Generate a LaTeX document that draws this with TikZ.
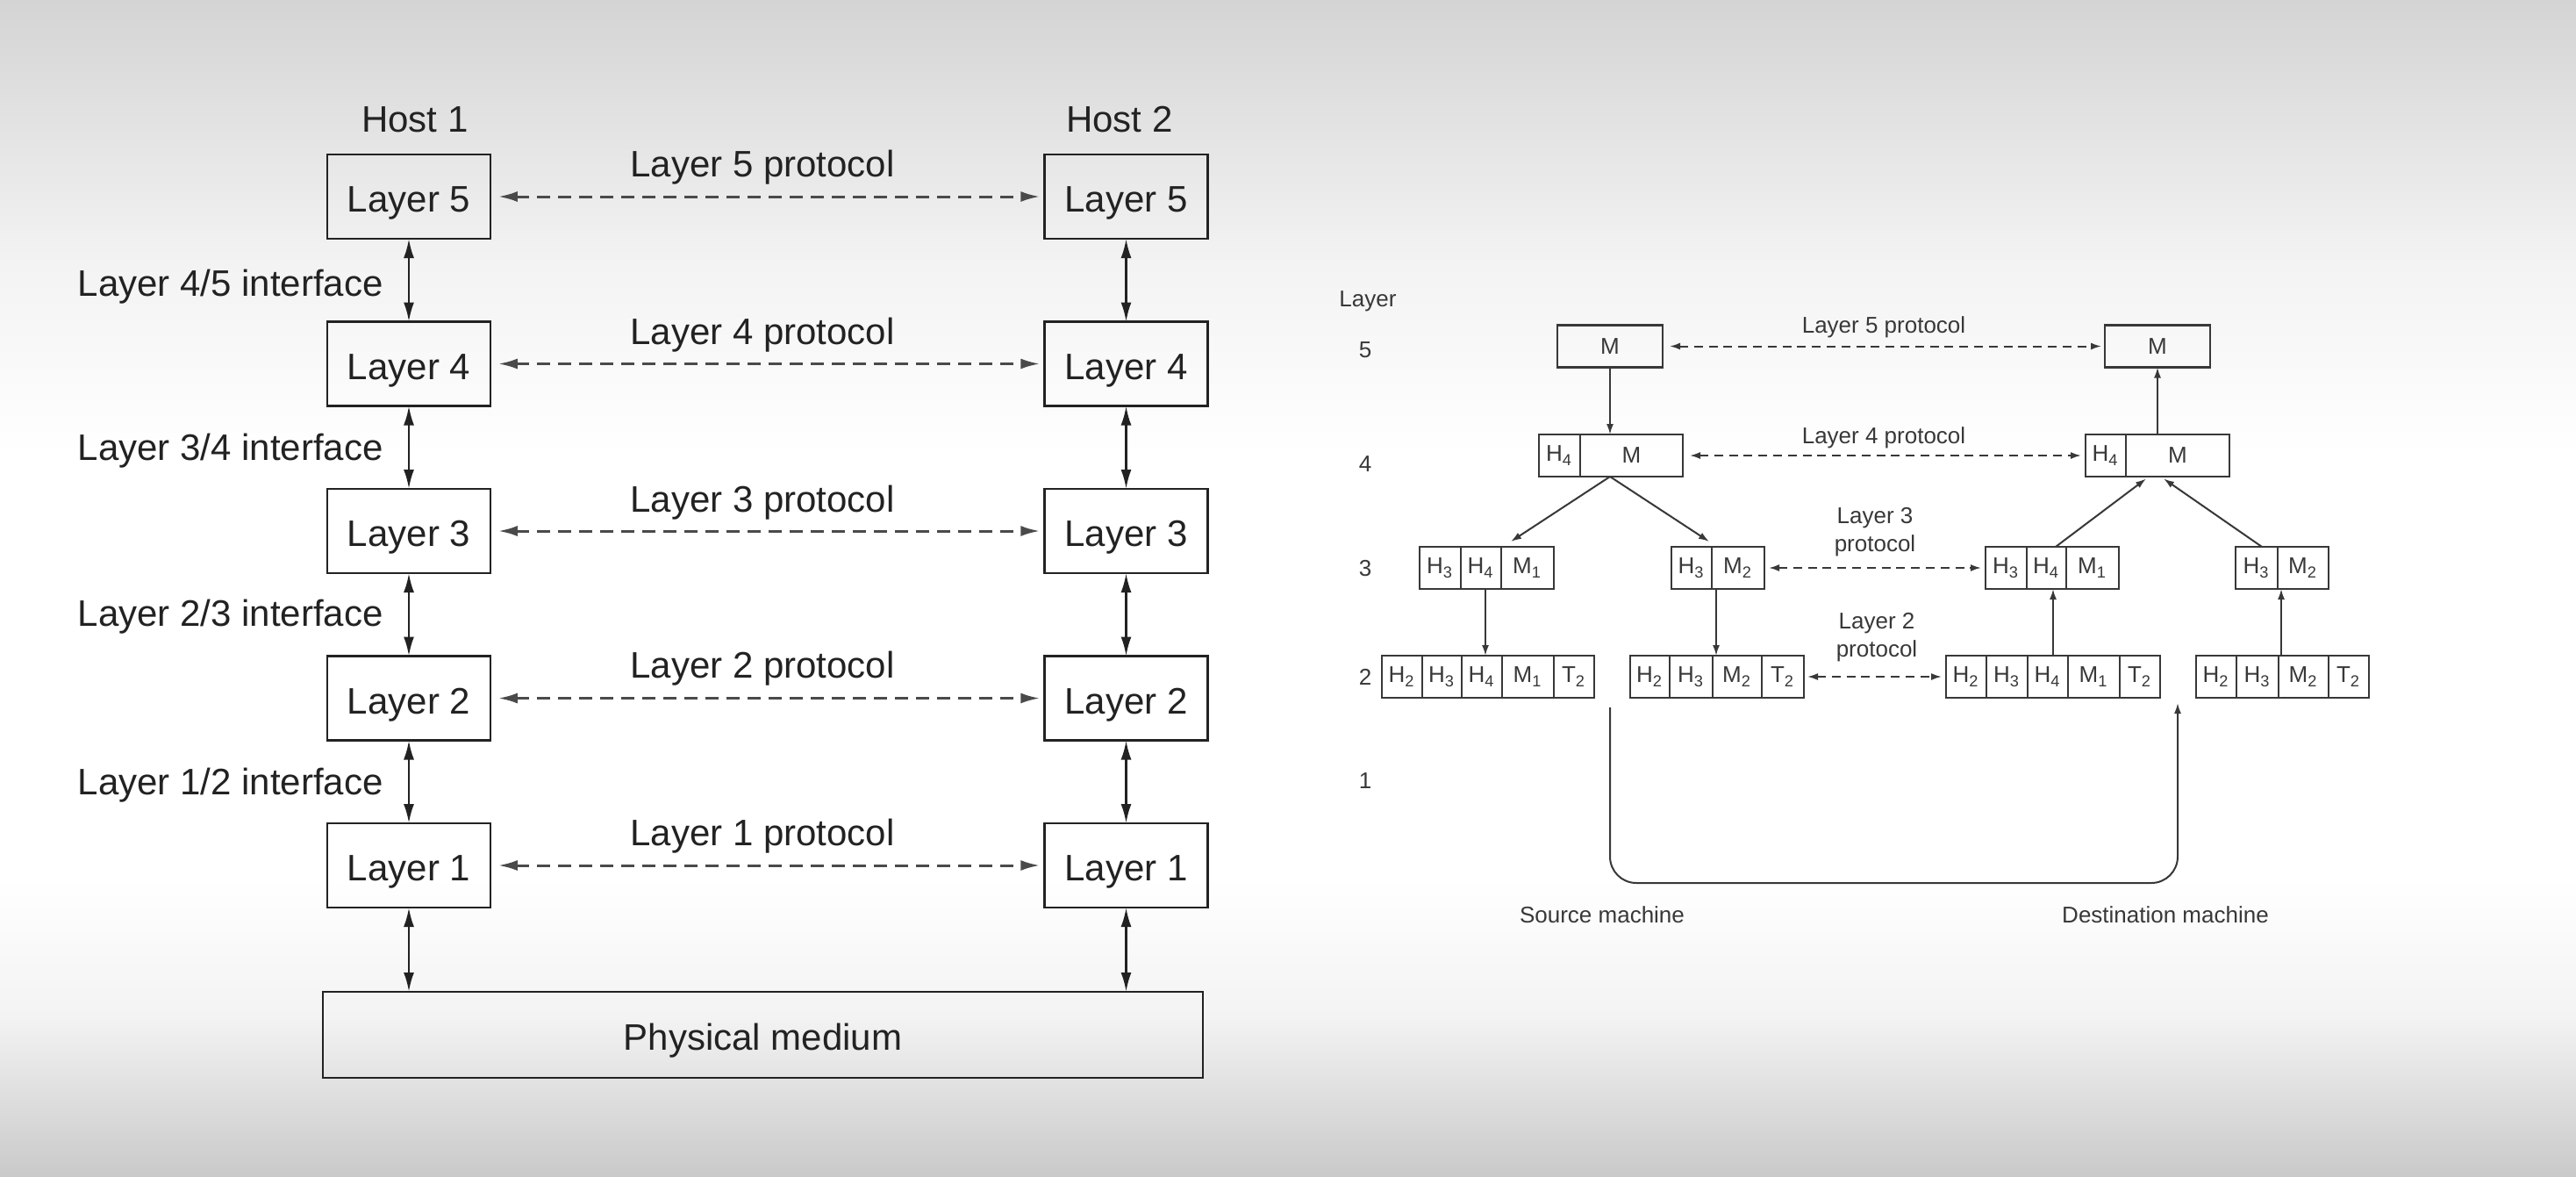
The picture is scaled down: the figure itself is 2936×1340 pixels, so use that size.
\documentclass[tikz,border=0pt]{standalone}
\usepackage{fontspec}
\setmainfont{Liberation Sans}
\usetikzlibrary{arrows.meta}
\definecolor{bgA}{HTML}{D4D4D4}
\definecolor{bgB}{HTML}{F3F3F3}
\definecolor{ink}{HTML}{222222}
\definecolor{inkR}{HTML}{383838}
\definecolor{dashc}{HTML}{4A4A4A}
\tikzset{
 lbox/.style={draw=ink, line width=0.7pt, minimum width=46.5pt, minimum height=24pt, inner sep=0pt, outer sep=0pt, text=ink, text height=8.8pt, text depth=0pt, font=\fontsize{10.5}{12}\selectfont},
 physbox/.style={draw=ink, line width=0.7pt, minimum width=250.75pt, minimum height=24.5pt, inner sep=0pt, outer sep=0pt, text=ink, text height=8.8pt, text depth=0pt, font=\fontsize{10.5}{12}\selectfont},
 llbl/.style={inner sep=0pt, text=ink, font=\fontsize{10.5}{12}\selectfont},
 varrow/.style={draw=ink, line width=0.65pt, {Latex[length=5.5pt,width=3pt]}-{Latex[length=5.5pt,width=3pt]}},
 darrow/.style={draw=dashc, line width=0.75pt, dash pattern=on 3.6pt off 2.4pt, {Latex[length=5.5pt,width=3pt]}-{Latex[length=5.5pt,width=3pt]}, shorten <=2.2pt, shorten >=1.3pt},
 cell/.style={draw=inkR, line width=0.55pt, minimum height=12pt, inner sep=0pt, outer sep=0pt, anchor=west, text=inkR, font=\fontsize{6.5}{7.5}\selectfont},
 cw/.style={minimum width=#1*0.25pt},
 slbl/.style={inner sep=0pt, text=inkR, font=\fontsize{6.5}{8}\selectfont, align=center},
 sarrow/.style={draw=inkR, line width=0.5pt, -{Latex[length=3pt,width=2pt]}},
 sdash/.style={draw=inkR, line width=0.5pt, dash pattern=on 2.5pt off 1.7pt, {Latex[length=3pt,width=2pt]}-{Latex[length=3pt,width=2pt]}},
}
\begin{document}
\begin{tikzpicture}[x=0.25pt,y=-0.25pt]
\useasboundingbox (0,0) rectangle (2936,1340);
% background
\fill[white] (0,0) rectangle (2936,1340);
\shade[top color=bgA, bottom color=bgB] (0,0) rectangle (2936,300);
\shade[top color=bgB, bottom color=white] (0,299) rectangle (2936,520);
\shade[top color=white, bottom color=bgB] (0,1000) rectangle (2936,1160);
\shade[top color=bgB, bottom color=bgA!95!black] (0,1159) rectangle (2936,1340);

% ===== left diagram =====
\node[llbl] (host1) at (473,136) {Host 1};
\node[llbl] (host2) at (1276,136) {Host 2};

\node[lbox] (a5) at (466,224) {Layer 5};
\node[lbox] (a4) at (466,414.5) {Layer 4};
\node[lbox] (a3) at (466,605) {Layer 3};
\node[lbox] (a2) at (466,795.5) {Layer 2};
\node[lbox] (a1) at (466,986) {Layer 1};
\node[lbox] (b5) at (1283.5,224) {Layer 5};
\node[lbox] (b4) at (1283.5,414.5) {Layer 4};
\node[lbox] (b3) at (1283.5,605) {Layer 3};
\node[lbox] (b2) at (1283.5,795.5) {Layer 2};
\node[lbox] (b1) at (1283.5,986) {Layer 1};
\node[physbox] (phys) at (869.5,1179) {Physical medium};

\draw[varrow] (a5.south) -- (a4.north);
\draw[varrow] (a4.south) -- (a3.north);
\draw[varrow] (a3.south) -- (a2.north);
\draw[varrow] (a2.south) -- (a1.north);
\draw[varrow] (a1.south) -- (a1.south |- phys.north);
\draw[varrow] (b5.south) -- (b4.north);
\draw[varrow] (b4.south) -- (b3.north);
\draw[varrow] (b3.south) -- (b2.north);
\draw[varrow] (b2.south) -- (b1.north);
\draw[varrow] (b1.south) -- (b1.south |- phys.north);

\draw[darrow] (a5.east) -- (b5.west);
\draw[darrow] (a4.east) -- (b4.west);
\draw[darrow] (a3.east) -- (b3.west);
\draw[darrow] (a2.east) -- (b2.west);
\draw[darrow] (a1.east) -- (b1.west);

\node[llbl] (p5) at (869,191) {Layer 5 protocol};
\node[llbl] (p4) at (869,382) {Layer 4 protocol};
\node[llbl] (p3) at (869,573) {Layer 3 protocol};
\node[llbl] (p2) at (869,762) {Layer 2 protocol};
\node[llbl] (p1) at (869,953) {Layer 1 protocol};

\node[llbl, anchor=west] (i45) at (88,327) {Layer 4/5 interface};
\node[llbl, anchor=west] (i34) at (88,514) {Layer 3/4 interface};
\node[llbl, anchor=west] (i23) at (88,703) {Layer 2/3 interface};
\node[llbl, anchor=west] (i12) at (88,895) {Layer 1/2 interface};

% ===== right diagram =====
\node[slbl] (lay) at (1559,343) {Layer};
\node[slbl] (n5) at (1556,399) {5};
\node[slbl] (n4) at (1556,529) {4};
\node[slbl] (n3) at (1556,648) {3};
\node[slbl] (n2) at (1556,771) {2};
\node[slbl] (n1) at (1556,890) {1};

% row 5
\node[cell, cw=120] (r5l) at (1775,394.5) {M};
\node[cell, cw=120] (r5r) at (2399,394.5) {M};
% row 4
\node[cell, cw=47] (r4lh) at (1754,519) {H\textsubscript{4}};
\node[cell, cw=117] (r4lm) at (1801,519) {M};
\node[cell, cw=46] (r4rh) at (2377,519) {H\textsubscript{4}};
\node[cell, cw=118] (r4rm) at (2423,519) {M};
% row 3
\node[cell, cw=47] (r3ah3) at (1618,647) {H\textsubscript{3}};
\node[cell, cw=46] (r3ah4) at (1665,647) {H\textsubscript{4}};
\node[cell, cw=60] (r3am1) at (1711,647) {M\textsubscript{1}};
\node[cell, cw=46] (r3bh3) at (1905,647) {H\textsubscript{3}};
\node[cell, cw=60] (r3bm2) at (1951,647) {M\textsubscript{2}};
\node[cell, cw=47] (r3ch3) at (2263,647) {H\textsubscript{3}};
\node[cell, cw=45] (r3ch4) at (2310,647) {H\textsubscript{4}};
\node[cell, cw=60] (r3cm1) at (2355,647) {M\textsubscript{1}};
\node[cell, cw=48] (r3dh3) at (2548,647) {H\textsubscript{3}};
\node[cell, cw=58] (r3dm2) at (2596,647) {M\textsubscript{2}};
% row 2
\node[cell, cw=46] (r2ah2) at (1575,771) {H\textsubscript{2}};
\node[cell, cw=45] (r2ah3) at (1621,771) {H\textsubscript{3}};
\node[cell, cw=46] (r2ah4) at (1666,771) {H\textsubscript{4}};
\node[cell, cw=59] (r2am1) at (1712,771) {M\textsubscript{1}};
\node[cell, cw=46] (r2at2) at (1771,771) {T\textsubscript{2}};
\node[cell, cw=45] (r2bh2) at (1858,771) {H\textsubscript{2}};
\node[cell, cw=49] (r2bh3) at (1903,771) {H\textsubscript{3}};
\node[cell, cw=56] (r2bm2) at (1952,771) {M\textsubscript{2}};
\node[cell, cw=48] (r2bt2) at (2008,771) {T\textsubscript{2}};
\node[cell, cw=46] (r2ch2) at (2218,771) {H\textsubscript{2}};
\node[cell, cw=47] (r2ch3) at (2264,771) {H\textsubscript{3}};
\node[cell, cw=46] (r2ch4) at (2311,771) {H\textsubscript{4}};
\node[cell, cw=59] (r2cm1) at (2357,771) {M\textsubscript{1}};
\node[cell, cw=46] (r2ct2) at (2416,771) {T\textsubscript{2}};
\node[cell, cw=46] (r2dh2) at (2503,771) {H\textsubscript{2}};
\node[cell, cw=48] (r2dh3) at (2549,771) {H\textsubscript{3}};
\node[cell, cw=57] (r2dm2) at (2597,771) {M\textsubscript{2}};
\node[cell, cw=46] (r2dt2) at (2654,771) {T\textsubscript{2}};

% protocol labels
\node[slbl] (q5) at (2147,373) {Layer 5 protocol};
\node[slbl] (q4) at (2147,499) {Layer 4 protocol};
\node[slbl] (q3) at (2137,606) {Layer 3\\protocol};
\node[slbl] (q2) at (2139,726) {Layer 2\\protocol};

% dashed protocol arrows
\draw[sdash, shorten <=2pt, shorten >=1pt] (r5l.east) -- (r5r.west);
\draw[sdash, shorten <=2pt, shorten >=1.25pt] (r4lm.east) -- (r4rh.west);
\draw[sdash, shorten <=1.25pt, shorten >=1.25pt] (r3bm2.east) -- (r3ch3.west);
\draw[sdash, shorten <=1pt, shorten >=1.25pt] (r2bt2.east) -- (r2ch2.west);

% source side arrows
\draw[sarrow] (r5l.south) -- (r5l.south |- r4lm.north);
\coordinate (s4b) at (r5l.south |- r4lm.south);
\coordinate (s3a) at ([xshift=2.75pt,yshift=1.5pt]r3am1.north west);
\coordinate (s3b) at ([xshift=-0.75pt,yshift=1.5pt]r3bh3.north east);
\draw[sarrow] (s4b) -- (s3a);
\draw[sarrow] (s4b) -- (s3b);
\coordinate (v1a) at ([xshift=1.25pt]r3ah4.south);
\coordinate (v2a) at ([xshift=1.25pt]r3bm2.south west);
\draw[sarrow] (v1a) -- (v1a |- r2ah4.north);
\draw[sarrow] (v2a) -- (v2a |- r2bm2.north);

% destination side arrows
\coordinate (u1a) at ([xshift=1.5pt]r2ch4.north);
\coordinate (u2a) at ([xshift=0.75pt]r2dm2.north west);
\draw[sarrow] (u1a) -- (u1a |- r3ch4.south);
\draw[sarrow] (u2a) -- (u2a |- r3dm2.south);
\coordinate (d3a) at ([xshift=2.6pt]r3ch4.north);
\coordinate (d3b) at ([xshift=1.5pt]r3dh3.north);
\coordinate (d4a) at ([xshift=5.75pt,yshift=-0.6pt]r4rm.south west);
\coordinate (d4b) at ([xshift=10.75pt,yshift=-0.6pt]r4rm.south west);
\draw[sarrow] (d3a) -- (d4a);
\draw[sarrow] (d3b) -- (d4b);
\draw[sarrow] (r5r.south |- r4rm.north) -- (r5r.south);

% physical path
\coordinate (bs) at (1835,806);
\coordinate (bd) at (2482,801);
\coordinate (bm) at (2158,1006);
\draw[sarrow, rounded corners=7.5pt] (bs) |- (bm) -| (bd);

\node[slbl] (src) at (1826,1042) {Source machine};
\node[slbl] (dst) at (2468,1042) {Destination machine};
\end{tikzpicture}
\end{document}
